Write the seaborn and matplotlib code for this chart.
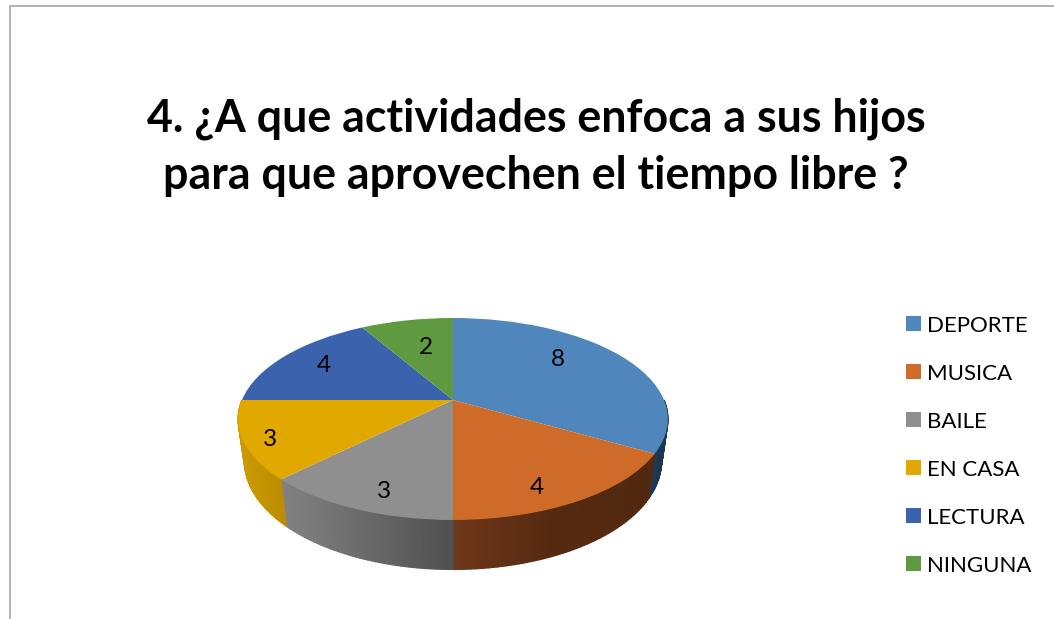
import numpy as np
import matplotlib
matplotlib.use("Agg")
import matplotlib.pyplot as plt
import matplotlib.transforms as mtransforms
from matplotlib.colors import LinearSegmentedColormap
from matplotlib.patches import Patch
import seaborn as sns

categories = ["DEPORTE", "MUSICA", "BAILE", "EN CASA", "LECTURA", "NINGUNA"]
values = [8, 4, 3, 3, 4, 2]
value_labels = ["8", "4", "3", "3", "4", "2"]
top_colors = ["#4F86BB", "#CE6B28", "#8F8F8F", "#E1A900", "#3B62AD", "#5F9A40"]
# side wall shading, left to right
wall_colors = [
    ["#1F3C58", "#1D3650"],
    ["#70381A", "#552A10", "#522810"],
    ["#828282", "#505050"],
    ["#CC9A00", "#BC8C00"],
    ["#2B4A82", "#2B4A82"],
    ["#46722F", "#46722F"],
]

title = "4. ¿A que actividades enfoca a sus hijos\npara que aprovechen el tiempo libre ?"

sns.set_theme(style="white")
plt.rcParams["font.family"] = ["Lato", "DejaVu Sans"]


# unit circle -> pixels, tilted disc with perspective
def project(x, y):
    w = 1 + 0.188 * y
    return 453 + 211 * x / w, 400 - 97.4 * y / w


class Tilt(mtransforms.Transform):
    input_dims = 2
    output_dims = 2
    is_separable = False

    def transform_non_affine(self, xy):
        xy = np.asarray(xy)
        px, py = project(xy[:, 0], xy[:, 1])
        return np.column_stack([px, py])


fig = plt.figure(figsize=(10.54, 6.19), dpi=100)
ax = fig.add_axes([0, 0, 1, 1])

wedges, _ = ax.pie(values, colors=top_colors, startangle=90, counterclock=False,
                   wedgeprops={"linewidth": 0})
ax.set_aspect("auto")
ax.set_xlim(0, 1054)
ax.set_ylim(619, 0)
ax.axis("off")

tilt = Tilt()
for w in wedges:
    w.set_transform(tilt + ax.transData)
    w.set_zorder(5)


def rim(theta):
    t = np.radians(theta)
    x, y = project(np.cos(t), np.sin(t))
    # lower rim of the disc
    return x, y, 453 + 0.97 * (x - 453), 400 + 1.07 * (y - 400) + 41.0


# side wall as thin strips, only the front half can be seen
for w, stops in zip(wedges, wall_colors):
    lo, hi = max(w.theta1, -180), min(w.theta2, 0)
    if hi <= lo:
        continue
    cmap = LinearSegmentedColormap.from_list("wall", stops)
    edges = np.linspace(lo, hi, int(hi - lo) + 1)
    xa = rim(lo)[0]
    xb = rim(hi)[0]
    for a, b in zip(edges[:-1], edges[1:]):
        x1, y1, x2, y2 = rim(a)
        x3, y3, x4, y4 = rim(b)
        c = cmap(((x1 + x3) / 2 - xa) / (xb - xa))
        ax.fill([x1, x3, x4, x2], [y1, y3, y4, y2], color=c, lw=1.0, zorder=2)

label_x = [558, 537, 384, 270, 324, 426]
label_y = [360, 487, 491, 439, 365, 347]
for s, lx, ly in zip(value_labels, label_x, label_y):
    ax.text(lx, ly, s, fontsize=17.5, color="black", ha="center", va="center", zorder=6)

ax.text(536, 147, title, fontsize=32.2, fontweight="bold", color="black",
        ha="center", va="center", linespacing=1.43)

# chart frame, only top and left show
ax.plot([9.5, 9.5, 1054], [619, 5.5, 5.5], color="#A6A6A6", lw=1.2, zorder=1)

fs = 16
px = fs * 100 / 72
handles = [Patch(facecolor=c, edgecolor="none", label=n) for c, n in zip(top_colors, categories)]
ax.legend(handles=handles, loc="upper left", bbox_to_anchor=(906 / 1054, 1 - 315.5 / 619),
          frameon=False, fontsize=fs, borderpad=0, borderaxespad=0,
          handlelength=15 / px, handleheight=15 / px,
          handletextpad=6 / px, labelspacing=(48 - 0.9 * px) / px, labelcolor="black")

fig.savefig("out.png", dpi=100)
